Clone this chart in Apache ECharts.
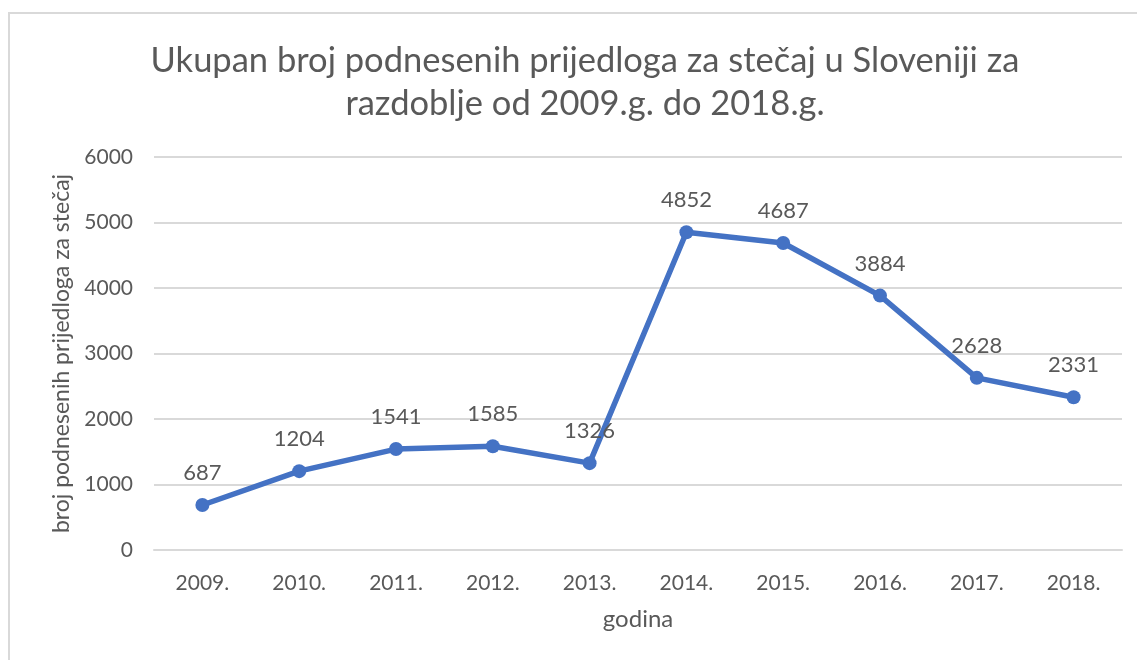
<!DOCTYPE html>
<html>
<head>
<meta charset="utf-8">
<script src="https://cdn.jsdelivr.net/npm/echarts@6/dist/echarts.min.js"></script>
<style>
  html, body { margin: 0; padding: 0; background: #fff; overflow: hidden; }
  #frame {
    position: absolute; left: 8px; top: 12px; width: 1200px; height: 700px;
    border: 2px solid #d9d9d9; box-sizing: border-box;
  }
  #chart { position: absolute; left: 0; top: 0; width: 1137px; height: 660px; }
</style>
</head>
<body>
<div id="frame"></div>
<div id="chart"></div>
<script>
  const years = ['2009.', '2010.', '2011.', '2012.', '2013.', '2014.', '2015.', '2016.', '2017.', '2018.'];
  const proposals = [687, 1204, 1541, 1585, 1326, 4852, 4687, 3884, 2628, 2331];

  const font = 'Lato, "Open Sans", sans-serif';
  const textColor = '#595959';

  const chart = echarts.init(document.getElementById('chart'));
  chart.setOption({
    animation: false,
    title: {
      text: 'Ukupan broj podnesenih prijedloga za stečaj u Sloveniji za\nrazdoblje od 2009.g. do 2018.g.',
      left: 580,
      top: 34,
      textAlign: 'center',
      textStyle: {
        fontFamily: font,
        fontSize: 34.5,
        fontWeight: 'normal',
        color: textColor,
        lineHeight: 43
      }
    },
    grid: { left: 154, right: 15, top: 157, bottom: 110 },
    xAxis: {
      type: 'category',
      data: years,
      name: 'godina',
      nameLocation: 'middle',
      nameGap: 57,
      nameTextStyle: { fontFamily: font, fontSize: 24, color: textColor },
      axisLine: { show: true, lineStyle: { color: '#d9d9d9', width: 2 } },
      axisTick: { show: false },
      axisLabel: { fontFamily: font, fontSize: 21, color: textColor, margin: 23 }
    },
    yAxis: {
      type: 'value',
      min: 0,
      max: 6000,
      interval: 1000,
      name: 'broj podnesenih prijedloga za stečaj',
      nameLocation: 'middle',
      nameGap: 77,
      nameTextStyle: { fontFamily: font, fontSize: 23, color: textColor },
      axisLine: { show: false },
      axisTick: { show: false },
      axisLabel: { fontFamily: font, fontSize: 21, color: textColor, margin: 21, formatter: v => String(v) },
      splitLine: { lineStyle: { color: '#d9d9d9', width: 2 } }
    },
    series: [{
      type: 'line',
      data: proposals,
      symbol: 'circle',
      symbolSize: 14,
      itemStyle: { color: '#4472c4' },
      lineStyle: { color: '#4472c4', width: 5.5 },
      label: {
        show: true,
        position: 'top',
        distance: 14,
        fontFamily: font,
        fontSize: 22,
        color: textColor
      }
    }]
  });
</script>
</body>
</html>
